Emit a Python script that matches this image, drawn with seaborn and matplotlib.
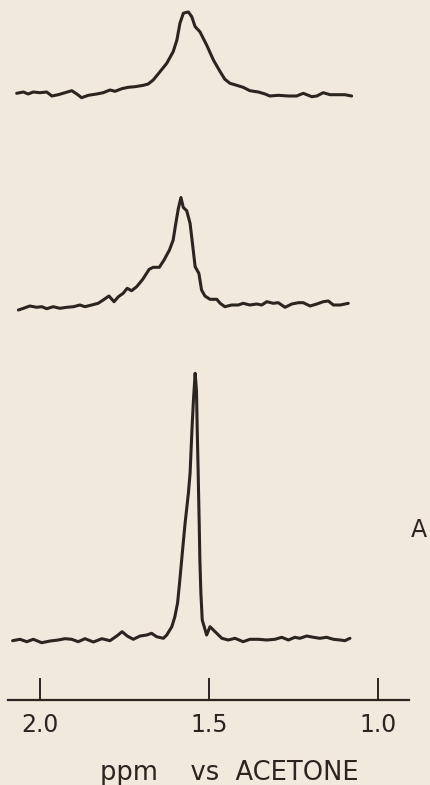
import numpy as np
import pandas as pd
import matplotlib
matplotlib.use("Agg")
import matplotlib.pyplot as plt
import seaborn as sns

# ---- data (chemical shift in ppm, signal height in arbitrary units) ----
top_ppm = [2.069, 2.049, 2.035, 2.020, 2.000, 1.980, 1.965, 1.946, 1.926, 1.906, 1.891, 1.877,
           1.857, 1.832, 1.813, 1.793, 1.778, 1.758, 1.739, 1.719, 1.694, 1.680, 1.665, 1.645,
           1.625, 1.606, 1.595, 1.586, 1.576, 1.571, 1.561, 1.551, 1.541, 1.527, 1.507, 1.487,
           1.467, 1.453, 1.438, 1.418, 1.399, 1.379, 1.354, 1.334, 1.320, 1.295, 1.265, 1.241,
           1.221, 1.196, 1.181, 1.162, 1.142, 1.117, 1.098, 1.078]
top_int = [2.7, 4.0, 2.0, 4.0, 3.3, 4.0, 0.0, 1.3, 3.3, 5.3, 2.0, -1.7,
           0.7, 2.0, 3.3, 6.0, 4.7, 7.3, 8.7, 9.3, 10.7, 12.0, 16.0, 24.3,
           32.7, 44.3, 56.0, 72.7, 82.7, 83.3, 84.0, 79.3, 69.3, 64.3, 51.0, 36.0,
           24.3, 16.7, 12.7, 10.7, 8.7, 5.3, 4.0, 2.0, 0.0, 0.7, 0.0, 0.0,
           2.7, -0.7, 0.0, 3.3, 1.3, 1.3, 1.3, 0.0]

mid_ppm = [2.064, 2.049, 2.030, 2.010, 1.995, 1.980, 1.961, 1.941, 1.921, 1.901, 1.882, 1.867,
           1.847, 1.828, 1.813, 1.796, 1.781, 1.768, 1.754, 1.742, 1.729, 1.714, 1.696, 1.677,
           1.665, 1.647, 1.633, 1.617, 1.606, 1.599, 1.591, 1.583, 1.576, 1.566, 1.556, 1.549,
           1.541, 1.530, 1.522, 1.512, 1.497, 1.477, 1.467, 1.453, 1.433, 1.413, 1.399, 1.379,
           1.359, 1.344, 1.329, 1.310, 1.295, 1.275, 1.255, 1.236, 1.221, 1.201, 1.181, 1.162,
           1.147, 1.132, 1.112, 1.088]
mid_int = [-2.0, -0.3, 2.0, 0.7, 1.3, -0.7, 1.3, -0.3, 0.7, 1.3, 3.0, 1.3,
           3.0, 4.7, 8.0, 12.0, 6.3, 11.3, 14.7, 19.7, 17.3, 21.3, 28.7, 38.7,
           40.7, 40.7, 48.0, 58.0, 68.0, 83.0, 99.0, 110.5, 100.5, 97.3, 84.7, 64.7,
           41.3, 34.7, 18.0, 12.0, 8.7, 8.7, 4.7, 1.3, 3.0, 3.0, 4.7, 3.0,
           4.0, 3.0, 6.3, 4.7, 5.3, 0.7, 4.0, 5.3, 5.3, 2.0, 4.0, 6.3,
           7.0, 3.0, 3.0, 4.7]

bot_ppm = [2.081, 2.059, 2.039, 2.020, 1.995, 1.970, 1.946, 1.926, 1.906, 1.887, 1.867, 1.842,
           1.817, 1.793, 1.773, 1.757, 1.742, 1.724, 1.704, 1.684, 1.670, 1.655, 1.635, 1.625,
           1.610, 1.601, 1.593, 1.586, 1.579, 1.571, 1.561, 1.556, 1.550, 1.546, 1.541, 1.537,
           1.535, 1.532, 1.529, 1.527, 1.524, 1.520, 1.507, 1.497, 1.482, 1.462, 1.443, 1.423,
           1.399, 1.379, 1.354, 1.329, 1.305, 1.285, 1.265, 1.246, 1.231, 1.211, 1.191, 1.172,
           1.152, 1.132, 1.112, 1.098, 1.083]
bot_int = [0.3, 1.7, -0.7, 1.7, -1.7, 0.0, 1.0, 2.3, 1.7, -0.7, 2.3, -1.0,
           2.3, 0.3, 5.0, 9.3, 5.0, 1.7, 5.0, 6.0, 7.7, 4.3, 2.7, 6.0,
           14.3, 24.3, 38.0, 62.0, 88.0, 117.0, 147.7, 167.7, 214.3, 241.0, 267.7, 250.0,
           214.3, 167.7, 117.7, 81.0, 47.7, 21.0, 6.0, 14.3, 9.3, 2.7, 1.0, 2.7,
           -0.7, 1.7, 1.7, 1.0, 1.7, 3.7, 1.0, 3.7, 2.7, 5.0, 3.7, 2.7,
           3.7, 1.7, 1.0, 0.3, 2.7]

spectrum_names = ["top", "middle", "bottom"]
baselines = [604, 392, 59]          # vertical stacking level of each trace
tick_values = [2.0, 1.5, 1.0]
tick_labels = ["2.0", "1.5", "1.0"]
x_label = "ppm    vs  ACETONE"
side_label = "A"

# ---- build long table ----
frames = []
for name, ppm, inten, base in zip(spectrum_names,
                                  [top_ppm, mid_ppm, bot_ppm],
                                  [top_int, mid_int, bot_int],
                                  baselines):
    frames.append(pd.DataFrame({"ppm": ppm,
                                "signal": np.asarray(inten) + base,
                                "spectrum": name}))
df = pd.concat(frames, ignore_index=True)

# ---- style ----
bg = "#f1e9dc"
ink = "#2b2521"
sns.set_theme(style="white")
plt.rcParams["font.family"] = ["DejaVu Sans"]

W, H, DPI = 430, 785, 100
fig = plt.figure(figsize=(W / DPI, H / DPI), dpi=DPI, facecolor=bg)
left_px, right_px, axis_px = 8, 409, 700
ax = fig.add_axes([left_px / W, (H - axis_px) / H, (right_px - left_px) / W, axis_px / H])
ax.set_facecolor(bg)

sns.lineplot(data=df, x="ppm", y="signal", hue="spectrum", units="spectrum",
             estimator=None, palette=[ink, ink, ink], linewidth=2.2,
             legend=False, ax=ax)

# ppm scale: 1 ppm = 338 px, tick 2.0 at x=40 px
ppm_per_px = 1 / 338
ax.set_xlim(2.0 + (40 - left_px) * ppm_per_px, 2.0 - (right_px - 40) * ppm_per_px)
ax.set_ylim(0, axis_px)

for s in ["left", "top", "right"]:
    ax.spines[s].set_visible(False)
ax.spines["bottom"].set_color(ink)
ax.spines["bottom"].set_linewidth(1.6)

ax.set_xticks(tick_values)
ax.set_xticklabels(tick_labels)
ax.set_yticks([])
ax.tick_params(axis="x", bottom=True, direction="in", length=16, width=1.4, color=ink,
               labelsize=17, labelcolor=ink, pad=9)
ax.set_xlabel(x_label, fontsize=18.5, color=ink)
ax.xaxis.set_label_coords((229.5 - left_px) / (right_px - left_px), -(773 - axis_px) / axis_px)
ax.xaxis.label.set_verticalalignment("center")
ax.set_ylabel("")

ax.text((419 - left_px) / (right_px - left_px), (axis_px - 530) / axis_px, side_label,
        transform=ax.transAxes, ha="center", va="center", fontsize=17, color=ink,
        clip_on=False)

fig.savefig("out.png", dpi=DPI, facecolor=bg)
